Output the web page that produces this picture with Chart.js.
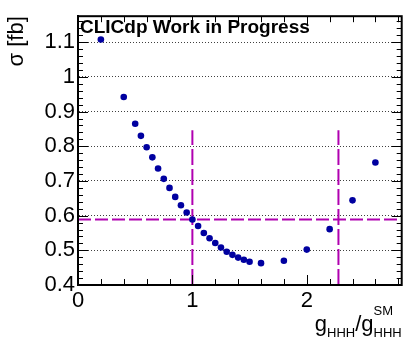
<!DOCTYPE html>
<html>
<head>
<meta charset="utf-8">
<script src="https://cdn.jsdelivr.net/npm/chart.js@4"></script>
<style>
  html, body { margin: 0; padding: 0; background: #fff; }
  #wrap { width: 405px; height: 337px; }
</style>
</head>
<body>
<div id="wrap"><canvas id="myChart" width="405" height="337"></canvas></div>
<script>
// data
const coupling = [0.2, 0.4, 0.5, 0.55, 0.6, 0.65, 0.7, 0.75, 0.8, 0.85, 0.9, 0.95, 1.0, 1.05, 1.1,
  1.15, 1.2, 1.25, 1.3, 1.35, 1.4, 1.45, 1.5, 1.6, 1.8, 2.0, 2.2, 2.4, 2.6];
const sigma = [1.108, 0.942, 0.865, 0.830, 0.797, 0.768, 0.736, 0.706, 0.680, 0.654, 0.630, 0.609, 0.589,
  0.570, 0.550, 0.535, 0.521, 0.508, 0.496, 0.487, 0.479, 0.473, 0.467, 0.463, 0.470, 0.502, 0.561, 0.644, 0.753];

const sigmaSM = 0.589;          // horizontal dashed line
const crossings = [1.0, 2.277]; // vertical dashed lines
const crossTop = 0.846;         // where the vertical lines stop

const xTicks = [0, 1, 2];
const yTicks = [0.4, 0.5, 0.6, 0.7, 0.8, 0.9, 1.0, 1.1];
const xRange = [0, 2.83];
const yRange = [0.4, 1.175];

const font = "'Liberation Sans', Arial, sans-serif";
const dotColor = "#0000a0";
const lineColor = "#b000b0";

const points = coupling.map((x, i) => ({ x, y: sigma[i] }));

const datasets = [
  {
    label: "sigma", data: points, showLine: false,
    pointRadius: 3.3, pointHoverRadius: 3.3, pointBackgroundColor: dotColor, pointBorderWidth: 0
  },
  {
    label: "sm", data: [{ x: xRange[0], y: sigmaSM }, { x: xRange[1], y: sigmaSM }],
    showLine: true, pointRadius: 0, borderColor: lineColor, borderWidth: 2, borderDash: [13, 4]
  }
];
crossings.forEach(c => {
  datasets.push({
    label: "cross", data: [{ x: c, y: yRange[0] }, { x: c, y: crossTop }],
    showLine: true, pointRadius: 0, borderColor: lineColor, borderWidth: 2, borderDash: [16, 4]
  });
});

// ROOT style frame, inward ticks and texts
const rootFrame = {
  id: "rootFrame",
  afterDraw(chart) {
    const ctx = chart.ctx;
    const { left, right, top, bottom } = chart.chartArea;
    const xs = chart.scales.x, ys = chart.scales.y;
    ctx.save();
    ctx.strokeStyle = "#000";

    ctx.lineWidth = 1;
    ctx.beginPath();
    for (let i = 0; i <= 70; i++) {
      const v = xRange[0] + i * 0.2;
      if (v > xRange[1] + 1e-9) break;
      const px = Math.round(xs.getPixelForValue(v)) + 0.5;
      const len = (i % 5 === 0) ? 10 : 6;
      ctx.moveTo(px, bottom); ctx.lineTo(px, bottom - len);
      ctx.moveTo(px, top); ctx.lineTo(px, top + len);
    }
    for (let i = 0; i <= 60; i++) {
      const v = yRange[0] + i * 0.02;
      if (v > yRange[1] + 1e-9) break;
      const py = Math.round(ys.getPixelForValue(v)) + 0.5;
      const len = (i % 5 === 0) ? 10 : 5;
      ctx.moveTo(left, py); ctx.lineTo(left + len, py);
      ctx.moveTo(right, py); ctx.lineTo(right - len, py);
    }
    ctx.stroke();

    ctx.lineWidth = 2;
    ctx.strokeRect(left, top, right - left, bottom - top);

    ctx.fillStyle = "#000";
    ctx.font = "bold 19px " + font;
    ctx.textAlign = "left";
    ctx.textBaseline = "alphabetic";
    ctx.fillText("CLICdp Work in Progress", left + 2, 33);

    // y title
    ctx.save();
    ctx.translate(23, top);
    ctx.rotate(-Math.PI / 2);
    ctx.font = "22px " + font;
    ctx.textAlign = "right";
    ctx.fillText("σ [fb]", 0, 0);
    ctx.restore();

    // x title g_HHH / g^SM_HHH, right aligned to frame
    const big = "22px " + font, small = "13px " + font;
    ctx.font = small;
    const wSub = ctx.measureText("HHH").width;
    ctx.font = big;
    const wg = ctx.measureText("g").width, ws = ctx.measureText("/").width;
    let x = right - (wg * 2 + ws + wSub * 2);
    const base = 331;
    ctx.textAlign = "left";
    ctx.font = big; ctx.fillText("g", x, base); x += wg;
    ctx.font = small; ctx.fillText("HHH", x, base + 6); x += wSub;
    ctx.font = big; ctx.fillText("/", x, base); x += ws;
    ctx.fillText("g", x, base); x += wg;
    ctx.font = small; ctx.fillText("SM", x, base - 16); ctx.fillText("HHH", x, base + 6);
    ctx.restore();
  }
};

new Chart(document.getElementById("myChart"), {
  type: "scatter",
  data: { datasets },
  options: {
    responsive: false,
    animation: false,
    layout: { padding: { left: 0, top: 7, right: 3, bottom: 0 } },
    plugins: { legend: { display: false }, tooltip: { enabled: false } },
    scales: {
      x: {
        type: "linear", min: xRange[0], max: xRange[1],
        afterBuildTicks: s => { s.ticks = xTicks.map(v => ({ value: v })); },
        afterFit: s => { s.height = 52; },
        grid: { display: false, drawTicks: false },
        border: { display: false },
        ticks: { padding: 3, color: "#000", font: { family: font, size: 22 }, maxRotation: 0, callback: v => String(v) }
      },
      y: {
        type: "linear", min: yRange[0], max: yRange[1],
        afterBuildTicks: s => { s.ticks = yTicks.map(v => ({ value: v })); },
        afterFit: s => { s.width = 78; },
        grid: {
          drawTicks: false, lineWidth: 1,
          color: c => (c.tick && c.tick.value > yRange[0] + 1e-6) ? "rgba(0,0,0,0.75)" : "rgba(0,0,0,0)"
        },
        border: { display: true, color: "#000", width: 2, dash: [1, 2] },
        ticks: {
          padding: 3, color: "#000", font: { family: font, size: 22 },
          callback: v => (Math.abs(v - 1) < 1e-9 ? "1" : (+v).toFixed(1))
        }
      }
    }
  },
  plugins: [rootFrame]
});
</script>
</body>
</html>
